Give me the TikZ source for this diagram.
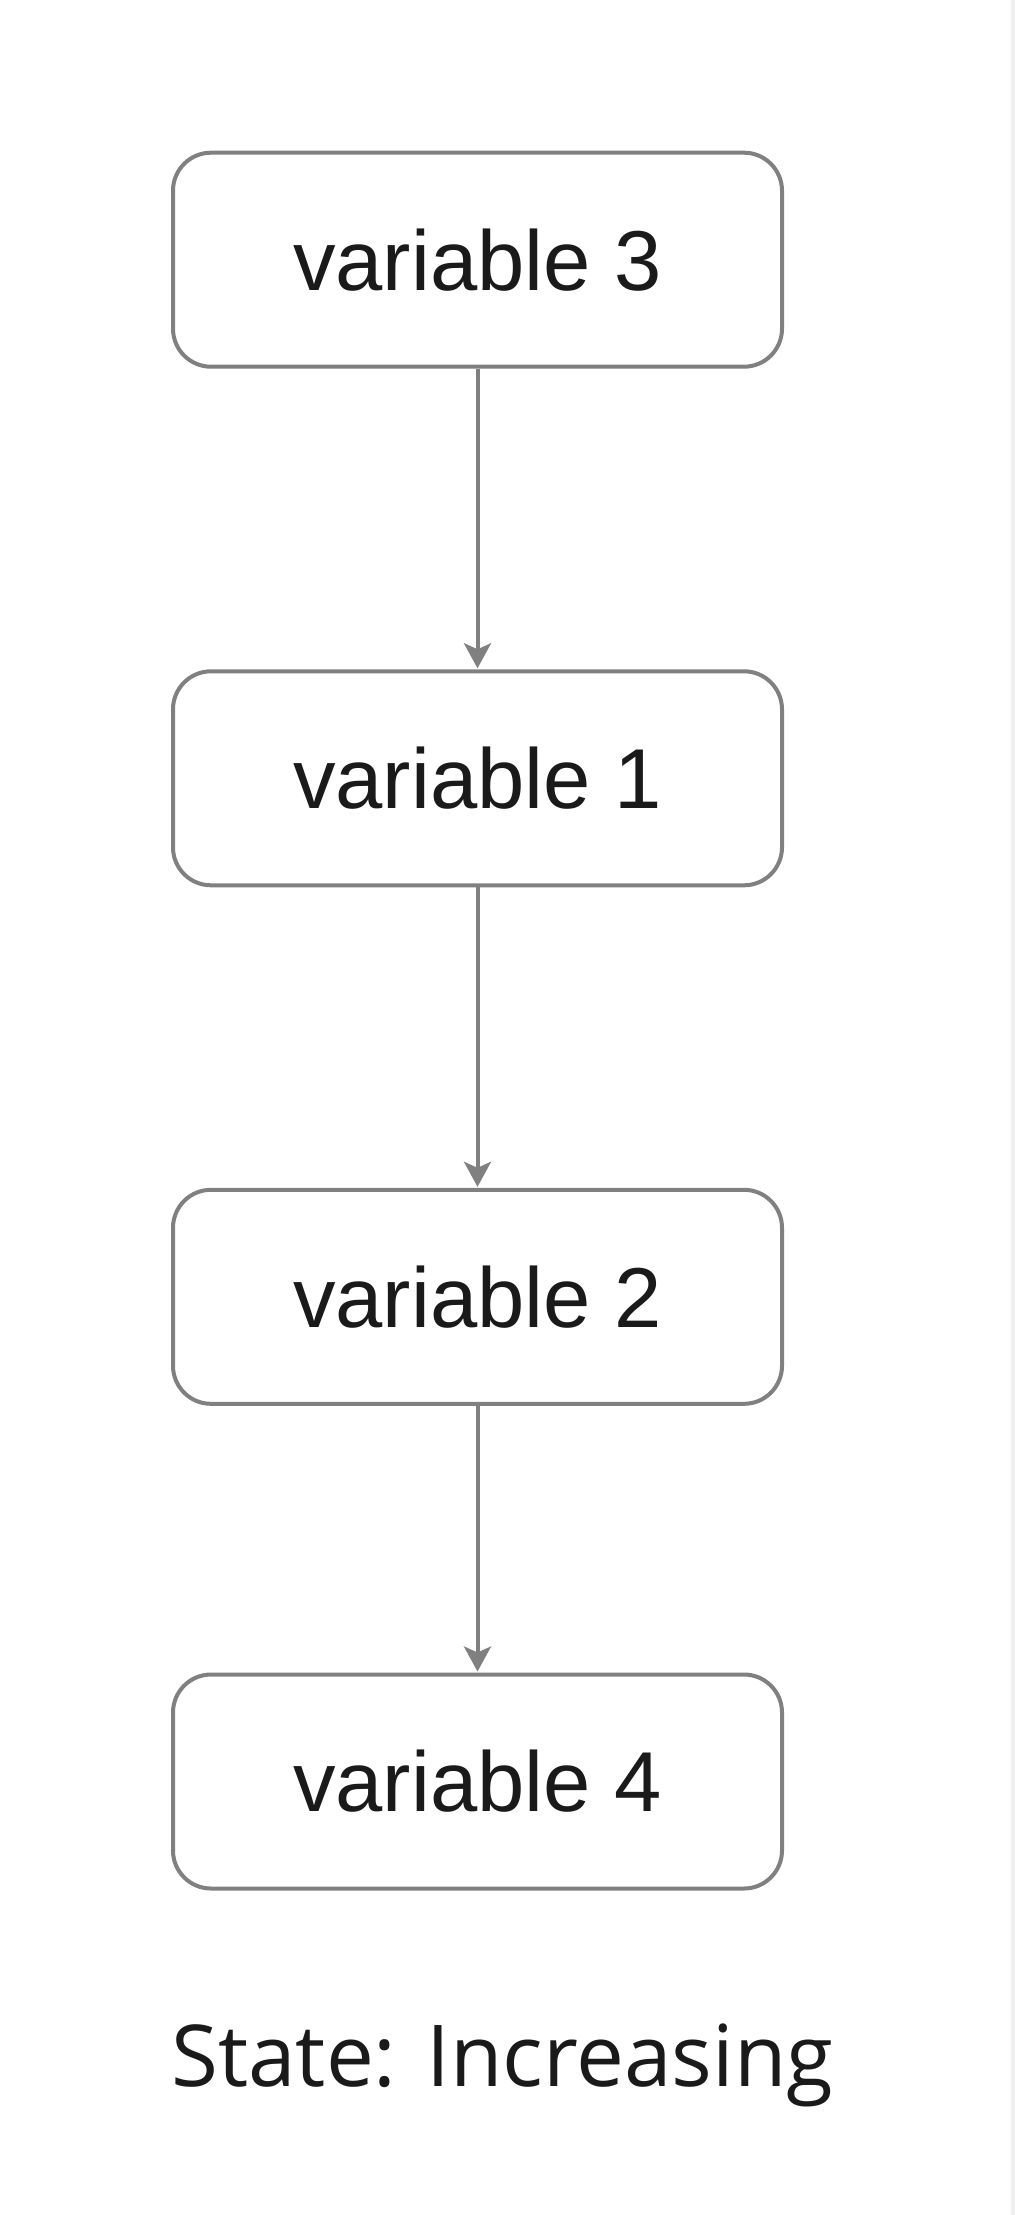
\documentclass[tikz,border=0pt]{standalone}
\usepackage{fontspec}
\setmainfont{Liberation Sans}
\newfontfamily\statefont{Open Sans}
\usetikzlibrary{arrows.meta}
\definecolor{edgegray}{HTML}{808080}
\definecolor{txt}{HTML}{1A1A1A}
\definecolor{strip}{HTML}{EFEFEF}
\begin{document}
\begin{tikzpicture}[x=0.5pt,y=-0.5pt,
  varbox/.style={draw=edgegray, line width=2pt, rounded corners=19pt, fill=white,
    minimum width=304.5pt, minimum height=107pt, inner sep=0pt, text=txt,
    font=\fontsize{42.5pt}{50pt}\selectfont},
  link/.style={draw=edgegray, line width=2pt,
    -{Stealth[length=12.5pt,width=13.5pt,inset=3pt]}, shorten >=0.5pt}]
\fill[white] (0,0) rectangle (1015,2215);
\fill[strip] (1011,0) rectangle (1015,2215);
\useasboundingbox (0,0) rectangle (1015,2215);
\node[varbox] (v3) at (477.5,259.7) {variable 3};
\node[varbox] (v1) at (477.5,778.3) {variable 1};
\node[varbox] (v2) at (477.5,1296.8) {variable 2};
\node[varbox] (v4) at (477.5,1781.5) {variable 4};
\draw[link] (v3.south) -- (v1.north);
\draw[link] (v1.south) -- (v2.north);
\draw[link] (v2.south) -- (v4.north);
\node[anchor=base west, inner sep=0pt, text=txt, font=\statefont\fontsize{42.7pt}{50pt}\selectfont] (state) at (171,2086) {State: Increasing};
\end{tikzpicture}
\end{document}
